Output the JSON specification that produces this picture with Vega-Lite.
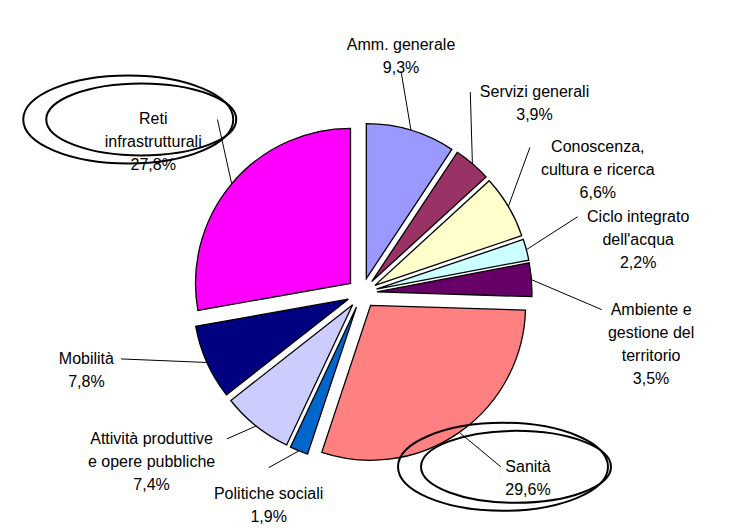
{
  "$schema": "https://vega.github.io/schema/vega-lite/v6.json",
  "autosize": "none",
  "width": 724,
  "height": 474,
  "padding": {"left": 0, "top": 56, "right": 5, "bottom": 0},
  "background": "white",
  "config": {"view": {"stroke": null}, "font": "Liberation Sans"},
  "data": {
    "values": [
      {"o": 1, "cat": "Amm. generale", "v": 9.3},
      {"o": 2, "cat": "Servizi generali", "v": 3.9},
      {"o": 3, "cat": "Conoscenza,\ncultura e ricerca", "v": 6.6},
      {"o": 4, "cat": "Ciclo integrato\ndell'acqua", "v": 2.2},
      {"o": 5, "cat": "Ambiente e\ngestione del\nterritorio", "v": 3.5},
      {"o": 6, "cat": "Sanità", "v": 29.6},
      {"o": 7, "cat": "Politiche sociali", "v": 1.9},
      {"o": 8, "cat": "Attività produttive\ne opere pubbliche", "v": 7.4},
      {"o": 9, "cat": "Mobilità", "v": 7.8},
      {"o": 10, "cat": "Reti\ninfrastrutturali", "v": 27.8}
    ]
  },
  "transform": [
    {"stack": "v", "groupby": [], "sort": [{"field": "o", "order": "ascending"}], "as": ["s0", "s1"]},
    {"calculate": "replace(format(datum.v, '.1f'), '.', ',') + '%'", "as": "pct"},
    {"calculate": "datum.cat + '\\n' + datum.pct", "as": "txt"},
    {"calculate": "PI * (datum.s0 + datum.s1) / 100", "as": "mid"},
    {"calculate": "datum.mid + PI / 180 * [-9, -4, -5, -3, 9, 0, -3, 8, 6, 4][datum.o - 1]", "as": "la"},
    {"calculate": "15 * sin(datum.mid)", "as": "ex"},
    {"calculate": "15 * cos(datum.mid)", "as": "ey"},
    {"calculate": "290 * sin(datum.la)", "as": "lx"},
    {"calculate": "(cos(datum.la) > 0 ? 250 : 212) * cos(datum.la)", "as": "ly"},
    {"calculate": "170 * sin(datum.mid)", "as": "px"},
    {"calculate": "170 * cos(datum.mid)", "as": "py"},
    {"calculate": "split(datum.txt, '\\n')", "as": "lines"},
    {"calculate": "length(datum.lines)", "as": "nl"},
    {"calculate": "max(length(datum.lines[0]), length(datum.lines[1] || ''), length(datum.lines[2] || ''), length(datum.lines[3] || ''))", "as": "mc"},
    {"calculate": "abs(cos(datum.la)) > 0.85", "as": "vert"},
    {"calculate": "datum.vert ? datum.lx : datum.lx - (datum.lx > 0 ? 1 : -1) * (datum.mc * 3.7 + 5)", "as": "qx"},
    {"calculate": "datum.vert ? datum.ly - (datum.ly > 0 ? 1 : -1) * (datum.nl * 11.5 + 3) : datum.ly", "as": "qy"}
  ],
  "layer": [
    {
      "mark": {"type": "arc", "radius": 155, "stroke": "#000000", "strokeWidth": 1.3},
      "encoding": {
        "x": {"field": "ex", "type": "quantitative", "scale": {"domain": [-362, 362], "nice": false, "zero": false}, "axis": null},
        "y": {"field": "ey", "type": "quantitative", "scale": {"domain": [-237, 237], "nice": false, "zero": false}, "axis": null},
        "theta": {"field": "s0", "type": "quantitative", "scale": {"domain": [0, 100], "range": [0, 6.283185307179586]}},
        "theta2": {"field": "s1"},
        "color": {
          "field": "o", "type": "ordinal", "legend": null,
          "scale": {
            "domain": [1, 2, 3, 4, 5, 6, 7, 8, 9, 10],
            "range": ["#9999FF", "#993366", "#FFFFCC", "#CCFFFF", "#660066", "#FF8080", "#0066CC", "#CCCCFF", "#000080", "#FF00FF"]
          }
        }
      }
    },
    {
      "mark": {"type": "rule", "stroke": "#000000", "strokeWidth": 1},
      "encoding": {
        "x": {"field": "px", "type": "quantitative", "scale": {"domain": [-362, 362], "nice": false, "zero": false}, "axis": null},
        "y": {"field": "py", "type": "quantitative", "scale": {"domain": [-237, 237], "nice": false, "zero": false}, "axis": null},
        "x2": {"field": "qx"},
        "y2": {"field": "qy"}
      }
    },
    {
      "transform": [{"filter": "datum.v > 20"}],
      "mark": {"type": "point", "shape": "M -1.3 0 A 1.05 0.44 0 1 0 0.8 0 A 1.05 0.44 0 1 0 -1.3 0 Z", "size": 40000, "filled": false, "stroke": "#000000", "strokeWidth": 2, "opacity": 1},
      "encoding": {
        "x": {"field": "lx", "type": "quantitative", "scale": {"domain": [-362, 362], "nice": false, "zero": false}, "axis": null},
        "y": {"field": "ly", "type": "quantitative", "scale": {"domain": [-237, 237], "nice": false, "zero": false}, "axis": null}
      }
    },
    {
      "transform": [{"filter": "datum.v > 20"}],
      "mark": {"type": "point", "shape": "M -1.07 0 A 0.95 0.36 0 1 0 0.83 0 A 0.95 0.36 0 1 0 -1.07 0 Z", "size": 40000, "filled": false, "stroke": "#000000", "strokeWidth": 2, "opacity": 1},
      "encoding": {
        "x": {"field": "lx", "type": "quantitative", "scale": {"domain": [-362, 362], "nice": false, "zero": false}, "axis": null},
        "y": {"field": "ly", "type": "quantitative", "scale": {"domain": [-237, 237], "nice": false, "zero": false}, "axis": null}
      }
    },
    {
      "mark": {"type": "text", "fontSize": 16, "font": "Liberation Sans", "lineBreak": "\n", "lineHeight": 23, "align": "center", "baseline": "middle", "color": "#000000"},
      "encoding": {
        "x": {"field": "lx", "type": "quantitative", "scale": {"domain": [-362, 362], "nice": false, "zero": false}, "axis": null},
        "y": {"field": "ly", "type": "quantitative", "scale": {"domain": [-237, 237], "nice": false, "zero": false}, "axis": null},
        "text": {"field": "txt", "type": "nominal"}
      }
    }
  ]
}
